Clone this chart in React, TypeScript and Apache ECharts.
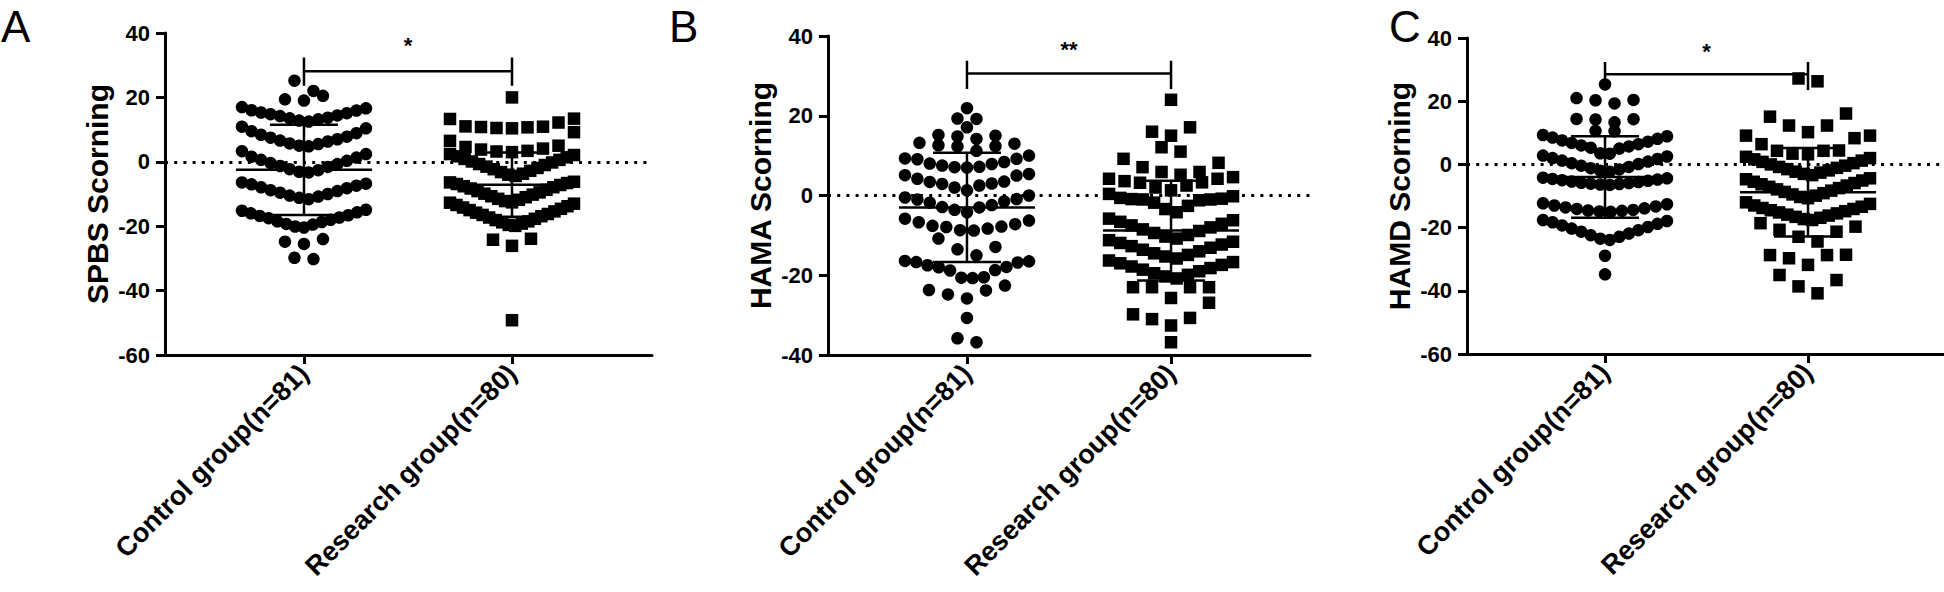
import React, { useEffect, useRef } from 'react';
import * as echarts from 'echarts';

// ---------- texts ----------
const groupLabels = ['Control group(n=81)', 'Research group(n=80)'];
const panelLetters = ['A', 'B', 'C'];
const yNames = ['SPBS Scorning', 'HAMA Scorning', 'HAMD Scorning'];
const significance = ['*', '**', '*'];

// ---------- axes ----------
const yMins = [-60, -40, -60];
const yMaxs = [40, 40, 40];
const yTickStep = 20;

// ---------- data (rows as arranged by the dot plot) ----------
const spbsControl = [
  [19.0, 19.4, 20.5],
  [22.0, 25.2],
  [12.5, 12.8, 13.2, 13.5, 13.7, 14.2, 14.4, 14.8, 15.1, 15.3, 15.9, 16.0, 16.6, 17.0],
  [4.8, 5.0, 5.5, 5.7, 6.3, 6.6, 7.0, 7.5, 7.8, 8.4, 8.9, 9.5, 10.4, 10.9],
  [-3.3, -3.1, -2.6, -2.3, -1.6, -1.3, -0.7, -0.4, 0.3, 0.6, 1.3, 1.6, 2.4, 3.3],
  [-11.6, -11.2, -10.8, -10.5, -10.0, -9.6, -9.1, -8.8, -8.2, -7.9, -7.4, -7.0, -6.8, -6.4],
  [-20.4, -20.1, -19.5, -19.3, -18.7, -18.5, -18.0, -17.5, -17.3, -16.8, -16.6, -16.0, -15.7, -15.2, -14.9],
  [-25.5, -24.8, -24.0],
  [-30.2, -29.8],
];
const spbsResearch = [
  [20.0],
  [10.4, 10.5, 10.7, 10.8, 10.9, 11.0, 12.2, 13.3, 13.4],
  [3.0, 3.2, 3.4, 3.8, 4.1, 4.6, 5.0, 6.5, 9.2],
  [-4.4, -4.0, -3.7, -3.2, -2.8, -2.3, -1.9, -1.5, -1.0, -0.7, -0.2, 0.1, 0.6, 0.9, 1.4, 1.7, 2.1, 2.4],
  [-12.6, -12.2, -11.8, -11.5, -11.0, -10.7, -10.2, -9.9, -9.5, -9.1, -8.7, -8.3, -7.9, -7.6, -7.2, -6.9, -6.6, -6.4, -6.2],
  [-19.9, -19.6, -19.2, -18.8, -18.5, -18.1, -17.7, -17.3, -16.9, -16.5, -16.2, -15.8, -15.4, -15.0, -14.6, -14.2, -13.8, -13.4, -13.0, -12.7],
  [-26.1, -24.2, -23.9],
  [-49.2],
];
const hamaControl = [
  [21.9],
  [19.2, 19.3],
  [17.1],
  [14.2, 14.8, 15.0, 15.2],
  [11.2, 12.3, 12.4, 12.6, 13.0, 13.2],
  [7.0, 7.1, 7.2, 7.5, 7.9, 8.0, 8.4, 9.1, 9.2, 9.3, 10.0],
  [1.3, 2.0, 2.5, 2.9, 3.0, 3.4, 3.5, 4.2, 5.0, 5.1, 5.4],
  [-4.2, -3.6, -3.0, -2.9, -2.4, -1.8, -1.5, -1.0, -0.9, -0.5, 0.0],
  [-8.8, -8.7, -8.3, -7.9, -7.8, -7.6, -7.2, -6.7, -6.3, -5.8],
  [-15.0, -13.5, -12.9, -10.8],
  [-20.7, -20.6, -20.5, -18.8, -18.7, -18.0, -17.9, -17.5, -16.8, -16.7, -16.5, -16.4],
  [-25.8, -24.8, -23.8, -23.7, -22.6],
  [-30.7],
  [-36.8, -35.8],
];
const hamaResearch = [
  [24.0],
  [15.0, 16.0, 17.1],
  [11.0, 12.1],
  [5.2, 5.9, 5.9, 7.1, 8.2, 9.2],
  [1.3, 2.0, 2.5, 3.2, 3.3, 3.6, 4.2, 4.2, 4.6],
  [-4.2, -3.4, -2.6, -1.8, -1.2, -1.0, -1.0, -0.9, -0.8, -0.6, -0.2, 0.4],
  [-10.8, -10.3, -9.9, -9.4, -8.9, -8.5, -8.0, -7.5, -7.1, -6.6, -6.2, -5.8],
  [-15.8, -15.3, -14.9, -14.5, -14.0, -13.6, -13.1, -12.7, -12.3, -11.9, -11.6, -11.2],
  [-20.8, -20.3, -19.9, -19.5, -19.0, -18.6, -18.2, -17.8, -17.4, -17.0, -16.7, -16.3],
  [-25.7, -23.0, -23.0, -23.0, -23.0],
  [-32.6, -31.0, -30.7, -29.8, -26.9],
  [-36.8],
];
const hamdControl = [
  [25.3],
  [19.3, 20.3, 20.4, 21.0],
  [13.3, 14.2, 14.3, 14.4],
  [10.5, 10.6],
  [3.4, 3.5, 5.0, 5.3, 5.7, 6.0, 6.4, 6.8, 7.2, 7.6, 8.1, 8.5, 8.9, 9.3],
  [-2.3, -2.0, -1.6, -1.2, -0.8, -0.4, 0.1, 0.4, 0.9, 1.2, 1.7, 2.0, 2.5, 2.8],
  [-6.5, -6.4, -6.2, -6.1, -5.9, -5.8, -5.6, -5.4, -5.2, -5.0, -4.8, -4.6, -4.4, -4.2],
  [-15.0, -14.9, -14.7, -14.6, -14.4, -14.1, -13.9, -13.6, -13.3, -13.0, -12.6, -12.3],
  [-23.9, -23.5, -22.9, -22.4, -21.9, -21.3, -20.8, -20.3, -19.8, -19.3, -18.8, -18.3, -17.9, -17.6],
  [-28.9],
  [-34.8],
];
const hamdResearch = [
  [26.3, 27.2],
  [10.2, 12.3, 12.3, 15.1, 16.1],
  [3.2, 3.4, 4.3, 4.3, 4.4, 6.4, 8.3, 9.1, 9.1],
  [-3.4, -3.0, -2.6, -2.3, -1.9, -1.5, -1.1, -0.8, -0.4, 0.0, 0.4, 0.8, 1.2, 1.6, 2.0, 2.4],
  [-10.7, -10.3, -9.9, -9.5, -9.1, -8.7, -8.3, -7.9, -7.5, -7.1, -6.7, -6.3, -5.9, -5.5, -5.1, -4.7, -4.4],
  [-17.6, -17.3, -16.9, -16.6, -16.2, -15.9, -15.5, -15.2, -14.8, -14.5, -14.1, -13.8, -13.4, -13.0, -12.5, -12.0],
  [-24.4, -22.9, -21.3, -20.7, -19.7, -18.6],
  [-31.8, -29.7, -28.7, -28.7, -28.6],
  [-40.8, -38.6, -36.6, -35.0],
];

// mean and SD (error bars): [control, research]
const meansA = [-2.5, -7.1];
const sdsA = [14.0, 10.0];
const meansB = [-3.0, -8.8];
const sdsB = [13.7, 12.5];
const meansC = [-4.0, -8.8];
const sdsC = [12.9, 14.0];

// significance brackets: [foot, bar, top] and star level
const bracketA = [23.6, 28.1, 32.4];
const bracketB = [26.7, 30.6, 33.8];
const bracketC = [23.5, 28.5, 32.4];
const starLevels = [36.2, 36.7, 35.7];

// ---------- layout ----------
const panels = [
  { left: 165, top: 33, width: 487, height: 322, xMin: -0.668, xMax: 1.673, letterX: 1 },
  { left: 828, top: 36, width: 482, height: 319, xMin: -0.681, xMax: 1.681, letterX: 669 },
  { left: 1467, top: 38, width: 477, height: 316, xMin: -0.68, xMax: 1.67, letterX: 1389 },
];
const FONT = '"Liberation Sans", Arial, sans-serif';

function swarm(rows: number[][], pxPerUnit: number, group: number) {
  const pts: number[][] = [];
  rows.forEach((row) => {
    const s = [...row].sort((a, b) => a - b);
    const n = s.length;
    const step = n > 1 ? Math.min(19, 124 / (n - 1)) : 0;
    const shift = n % 2 === 0 ? 0.5 : 0;
    s.forEach((v, i) => {
      const slot = i === 0 ? 0 : i % 2 === 1 ? -(i + 1) / 2 : i / 2;
      pts.push([group + ((slot + shift) * step) / pxPerUnit, v]);
    });
  });
  return pts;
}

export default function App() {
  const ref = useRef<HTMLDivElement>(null);
  useEffect(() => {
    if (!ref.current) return;
    const chart = echarts.init(ref.current, undefined, { renderer: 'svg' });
    const groups = [
      [spbsControl, spbsResearch],
      [hamaControl, hamaResearch],
      [hamdControl, hamdResearch],
    ];
    const means = [meansA, meansB, meansC];
    const sds = [sdsA, sdsB, sdsC];
    const brackets = [bracketA, bracketB, bracketC];

    const grid: any[] = [];
    const xAxis: any[] = [];
    const yAxis: any[] = [];
    const series: any[] = [];
    const graphic: any[] = [];

    panels.forEach((p, i) => {
      grid.push({ left: p.left, top: p.top, width: p.width, height: p.height, containLabel: false, outerBoundsMode: 'none' });
      xAxis.push({
        gridIndex: i,
        type: 'value',
        min: p.xMin,
        max: p.xMax,
        splitLine: { show: false },
        axisLine: { show: true, onZero: false, lineStyle: { color: '#000', width: 3 } },
        axisTick: { show: true, customValues: [0, 1], length: 9, lineStyle: { color: '#000', width: 3 } },
        axisLabel: {
          customValues: [0, 1],
          formatter: (v: number) => groupLabels[Math.round(v)],
          rotate: 45,
          margin: 14,
          color: '#000',
          fontSize: 27,
          fontWeight: 'bold',
          fontFamily: FONT,
        },
      });
      yAxis.push({
        gridIndex: i,
        type: 'value',
        min: yMins[i],
        max: yMaxs[i],
        interval: yTickStep,
        name: yNames[i],
        nameLocation: 'middle',
        nameGap: 53,
        nameTextStyle: { color: '#000', fontSize: 30, fontWeight: 'bold', fontFamily: FONT },
        splitLine: { show: false },
        axisLine: { show: true, onZero: false, lineStyle: { color: '#000', width: 3 } },
        axisTick: { show: true, length: 9, lineStyle: { color: '#000', width: 3 } },
        axisLabel: { color: '#000', fontSize: 22, fontWeight: 'bold', fontFamily: FONT, margin: 15 },
      });
      const pxPerUnit = p.width / (p.xMax - p.xMin);
      groups[i].forEach((rows, g) => {
        series.push({
          type: 'scatter',
          xAxisIndex: i,
          yAxisIndex: i,
          symbol: g === 0 ? 'circle' : 'rect',
          symbolSize: 12.5,
          itemStyle: { color: '#000', opacity: 1 },
          silent: true,
          z: 3,
          data: swarm(rows, pxPerUnit, g),
          markLine:
            g === 0
              ? {
                  silent: true,
                  symbol: 'none',
                  label: { show: false },
                  lineStyle: { color: '#000', width: 3, type: [3, 6.2], opacity: 1 },
                  data: [{ yAxis: 0 }],
                }
              : undefined,
        });
      });
      series.push({
        type: 'custom',
        xAxisIndex: i,
        yAxisIndex: i,
        silent: true,
        z: 5,
        data: [0, 1].map((g) => [g, means[i][g], sds[i][g]]),
        renderItem: (params: any, api: any) => {
          const x = api.value(0);
          const m = api.value(1);
          const sd = api.value(2);
          const c = api.coord([x, m]);
          const t = api.coord([x, m + sd]);
          const b = api.coord([x, m - sd]);
          const st = { stroke: '#000', lineWidth: 2.5 };
          return {
            type: 'group',
            children: [
              { type: 'line', shape: { x1: c[0] - 68, y1: c[1], x2: c[0] + 68, y2: c[1] }, style: st },
              { type: 'line', shape: { x1: c[0], y1: t[1], x2: c[0], y2: b[1] }, style: st },
              { type: 'line', shape: { x1: c[0] - 34, y1: t[1], x2: c[0] + 34, y2: t[1] }, style: st },
              { type: 'line', shape: { x1: c[0] - 34, y1: b[1], x2: c[0] + 34, y2: b[1] }, style: st },
            ],
          };
        },
      });
      series.push({
        type: 'custom',
        xAxisIndex: i,
        yAxisIndex: i,
        silent: true,
        z: 6,
        data: [[0, brackets[i][0], brackets[i][1], brackets[i][2], starLevels[i]]],
        renderItem: (params: any, api: any) => {
          const foot = api.value(1);
          const bar = api.value(2);
          const top = api.value(3);
          const star = api.value(4);
          const l0 = api.coord([0, foot]);
          const l1 = api.coord([0, top]);
          const r0 = api.coord([1, foot]);
          const r1 = api.coord([1, top]);
          const bl = api.coord([0, bar]);
          const br = api.coord([1, bar]);
          const s = api.coord([0.5, star]);
          const st = { stroke: '#000', lineWidth: 2.5 };
          return {
            type: 'group',
            children: [
              { type: 'line', shape: { x1: bl[0], y1: bl[1], x2: br[0], y2: br[1] }, style: st },
              { type: 'line', shape: { x1: l0[0], y1: l0[1], x2: l1[0], y2: l1[1] }, style: st },
              { type: 'line', shape: { x1: r0[0], y1: r0[1], x2: r1[0], y2: r1[1] }, style: st },
              {
                type: 'text',
                x: s[0],
                y: s[1],
                style: {
                  text: significance[i],
                  fill: '#000',
                  fontSize: 22,
                  fontWeight: 'bold',
                  fontFamily: FONT,
                  align: 'center',
                  verticalAlign: 'middle',
                },
              },
            ],
          };
        },
      });
      graphic.push({
        type: 'text',
        x: p.letterX,
        y: 4,
        style: {
          text: panelLetters[i],
          fill: '#000',
          fontSize: 44,
          fontFamily: FONT,
          align: 'left',
          verticalAlign: 'top',
        },
      });
    });

    chart.setOption({
      animation: false,
      backgroundColor: '#fff',
      grid,
      xAxis,
      yAxis,
      series,
      graphic,
    });
    return () => chart.dispose();
  }, []);
  return (
    <div
      ref={ref}
      style={{ position: 'fixed', left: 0, top: 0, width: 1944, height: 592, background: '#fff' }}
    />
  );
}
